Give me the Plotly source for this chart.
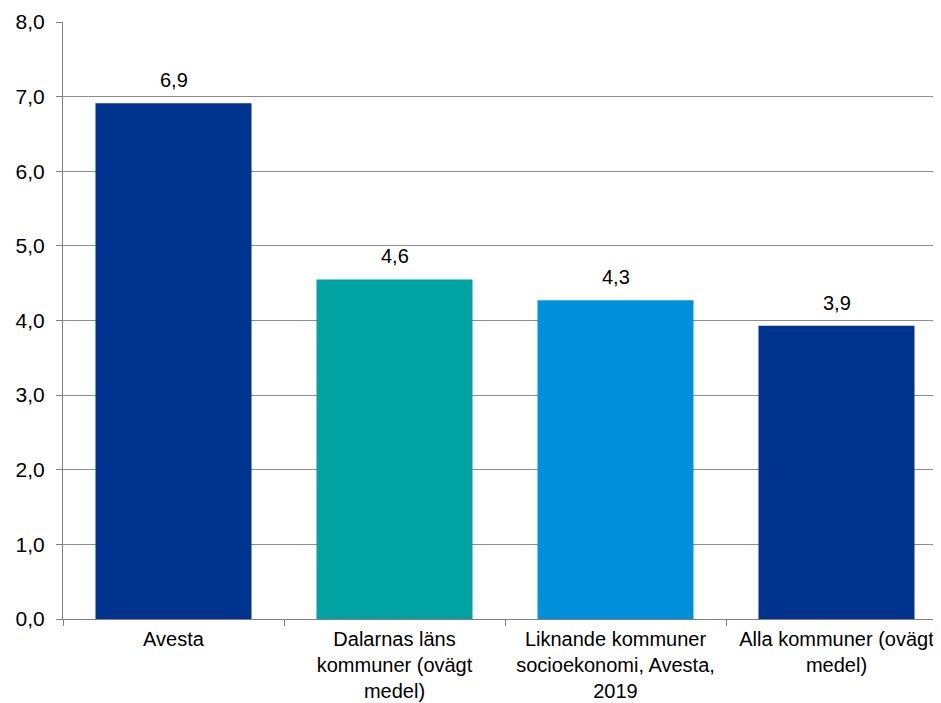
import plotly.graph_objects as go

categories = ["Avesta", "Dalarnas läns<br>kommuner (ovägt<br>medel)",
              "Liknande kommuner<br>socioekonomi, Avesta,<br>2019", "Alla kommuner (ovägt<br>medel)"]
values = [6.91, 4.55, 4.27, 3.93]
value_labels = ["6,9", "4,6", "4,3", "3,9"]
colors = ["#00338D", "#00A3A1", "#0091DA", "#00338D"]
y_ticks = [0, 1, 2, 3, 4, 5, 6, 7, 8]

fig = go.Figure()
fig.add_trace(go.Bar(x=categories, y=values, marker_color=colors, width=0.706,
                     marker_line_width=0, showlegend=False))
for c, v, t in zip(categories, values, value_labels):
    fig.add_annotation(x=c, y=v, text=t, showarrow=False, yanchor="bottom",
                       yshift=10, font=dict(size=20, color="#000000"))

fig.update_layout(
    width=941, height=703,
    margin=dict(l=55, r=2, t=14, b=92),
    paper_bgcolor="white", plot_bgcolor="white",
    font=dict(family="Liberation Sans, Arial, sans-serif", size=20, color="#000000"),
    separators=",.",
    bargap=0.294,
)
fig.update_xaxes(range=[-0.5, 3.5], tickson="boundaries", ticks="outside",
                 ticklen=6, tickcolor="#808080", showline=True, linecolor="#808080",
                 linewidth=1, showgrid=False, tickangle=0, tickfont=dict(size=20),
                 ticklabelstandoff=2)
fig.update_yaxes(range=[0, 8], tickvals=y_ticks, tickformat=".1f", ticks="outside",
                 ticklen=6, tickcolor="#808080", showline=True, linecolor="#808080",
                 linewidth=1, showgrid=True, gridcolor="#8C8C8C", gridwidth=1,
                 zeroline=False, tickfont=dict(size=21), ticklabelstandoff=7)

fig.write_html("out.html")
